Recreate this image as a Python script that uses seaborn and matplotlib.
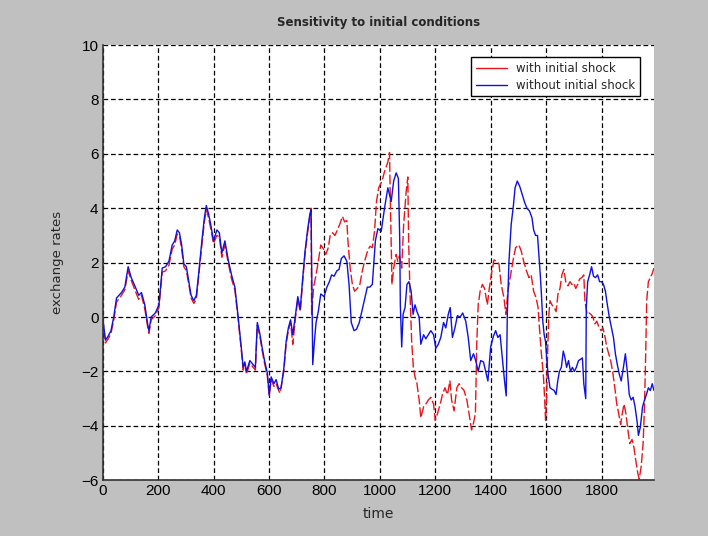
import numpy as np
import pandas as pd
import seaborn as sns
import matplotlib.pyplot as plt

# values
t_with = [0, 10, 20, 30, 40, 50, 68, 80, 92, 103, 118, 130, 140, 152, 163, 167, 175, 190,
          203, 215, 227, 239, 251, 260, 269, 277, 285, 293, 302, 311, 319, 329, 338, 346,
          358, 367, 374, 382, 390, 400, 412, 421, 430, 441, 453, 465, 477, 489, 500, 507,
          513, 519, 531, 543, 551, 558, 567, 575, 584, 594, 601, 608, 618, 626, 635, 640,
          654, 662, 670, 678, 686, 696, 704, 713, 722, 730, 740, 748, 752, 754, 761, 770,
          778, 787, 797, 805, 814, 821, 829, 838, 847, 857, 865, 873, 881, 885, 893, 901,
          909, 919, 928, 937, 945, 955, 964, 973, 981, 988, 996, 1008, 1017, 1029, 1035,
          1038, 1041, 1044, 1050, 1059, 1065, 1071, 1079, 1086, 1095, 1101, 1104, 1109,
          1115, 1121, 1127, 1134, 1142, 1148, 1158, 1166, 1175, 1184, 1194, 1200, 1208,
          1218, 1226, 1235, 1244, 1253, 1259, 1268, 1278, 1286, 1295, 1304, 1314, 1322,
          1331, 1338, 1345, 1350, 1355, 1362, 1370, 1378, 1388, 1395, 1402, 1412, 1422,
          1430, 1438, 1448, 1455, 1462, 1472, 1482, 1490, 1502, 1511, 1519, 1529, 1538,
          1546, 1555, 1564, 1571, 1576, 1583, 1590, 1595, 1598, 1602, 1606, 1610, 1614,
          1621, 1629, 1636, 1643, 1650, 1657, 1664, 1671, 1679, 1686, 1693, 1700, 1707,
          1714, 1721, 1729, 1736, 1740, 1748, 1755, 1762, 1769, 1776, 1783, 1790, 1798,
          1805, 1812, 1819, 1826, 1833, 1840, 1848, 1855, 1862, 1869, 1874, 1881, 1888,
          1895, 1902, 1910, 1917, 1924, 1931, 1936, 1943, 1950, 1955, 1959, 1963, 1969,
          1976, 1983, 1989]
y_with = [0.0, -0.95, -0.8, -0.6, -0.1, 0.55, 0.8, 1.0, 1.7, 1.35, 0.95, 0.65, 0.8, 0.3,
          -0.4, -0.6, -0.1, 0.05, 0.35, 1.65, 1.7, 1.9, 2.5, 2.65, 3.05, 3.0, 2.5, 1.85,
          1.7, 1.2, 0.7, 0.5, 0.65, 1.45, 2.65, 3.5, 3.95, 3.65, 3.25, 2.7, 3.0, 2.95, 2.2,
          2.65, 2.0, 1.4, 1.0, -0.1, -1.2, -1.95, -1.75, -2.1, -1.7, -1.85, -1.95, -0.3,
          -0.7, -1.2, -1.7, -2.15, -2.9, -2.3, -2.55, -2.45, -2.7, -2.8, -1.95, -1.0, -0.5,
          -0.2, -1.0, 0.0, 0.65, 0.2, 1.35, 2.3, 3.15, 3.75, 4.0, 0.1, 1.1, 1.55, 2.05,
          2.65, 2.5, 2.3, 2.55, 3.0, 3.1, 3.0, 3.2, 3.45, 3.7, 3.5, 3.55, 2.8, 1.8, 1.2,
          0.95, 1.05, 1.2, 1.7, 2.05, 2.4, 2.6, 2.55, 3.15, 4.25, 4.75, 5.0, 5.35, 5.7,
          6.05, 4.25, 2.8, 1.2, 1.8, 2.3, 2.05, 2.25, 1.8, 3.4, 4.6, 5.15, 2.8, 0.85, -0.9,
          -1.85, -2.2, -2.45, -3.05, -3.7, -3.3, -3.2, -3.05, -2.95, -3.2, -3.8, -3.55,
          -3.2, -2.85, -2.6, -2.85, -2.35, -3.05, -3.45, -2.6, -2.45, -2.6, -2.7, -3.05,
          -3.55, -4.15, -3.9, -3.55, -0.9, 0.45, 0.95, 1.2, 1.05, 0.45, 1.05, 1.55, 2.1,
          2.05, 1.95, 1.2, 0.7, 0.1, 0.95, 1.55, 2.15, 2.55, 2.65, 2.4, 2.05, 1.7, 1.45,
          1.55, 0.95, 0.7, 0.35, -0.4, -1.35, -2.1, -3.05, -3.8, -2.95, -1.1, 0.1, 0.6,
          0.45, 0.35, 0.2, 0.85, 1.05, 1.55, 1.75, 1.3, 1.15, 1.3, 1.2, 1.25, 1.05, 1.2,
          1.4, 1.45, 1.55, 0.6, 0.1, 0.15, 0.1, 0.0, -0.25, -0.15, -0.35, -0.5, -0.4,
          -0.7, -1.1, -1.35, -1.6, -2.0, -2.6, -3.2, -3.55, -3.95, -3.6, -3.2, -3.55,
          -4.15, -4.65, -4.5, -4.8, -5.3, -5.75, -5.95, -5.5, -4.65, -3.3, -1.5, 0.6, 1.3,
          1.45, 1.6, 1.8]

t_without = [0, 10, 20, 30, 40, 50, 68, 80, 92, 103, 118, 130, 140, 152, 163, 167, 175,
             190, 203, 215, 227, 239, 251, 260, 269, 277, 285, 293, 302, 311, 319, 329,
             338, 346, 358, 367, 374, 382, 390, 400, 412, 421, 430, 441, 453, 465, 477,
             489, 500, 507, 513, 519, 531, 543, 551, 558, 567, 575, 584, 594, 601, 608,
             618, 626, 635, 644, 654, 662, 670, 678, 686, 696, 704, 713, 722, 730, 740,
             748, 752, 758, 764, 770, 778, 787, 799, 809, 818, 826, 835, 845, 853, 861,
             871, 881, 889, 897, 907, 916, 926, 935, 945, 955, 964, 973, 978, 984, 993,
             1005, 1017, 1029, 1041, 1050, 1059, 1067, 1072, 1074, 1079, 1084, 1091, 1098,
             1105, 1113, 1120, 1127, 1134, 1142, 1148, 1158, 1166, 1175, 1184, 1194, 1202,
             1211, 1220, 1230, 1238, 1247, 1254, 1262, 1271, 1280, 1290, 1299, 1310, 1319,
             1328, 1338, 1346, 1355, 1364, 1374, 1382, 1390, 1400, 1410, 1418, 1426, 1434,
             1442, 1450, 1456, 1460, 1466, 1474, 1482, 1488, 1496, 1505, 1514, 1523, 1531,
             1540, 1549, 1555, 1562, 1569, 1574, 1579, 1583, 1588, 1593, 1598, 1602, 1607,
             1614, 1621, 1629, 1636, 1642, 1648, 1655, 1662, 1668, 1674, 1681, 1688, 1695,
             1702, 1709, 1717, 1725, 1731, 1736, 1743, 1745, 1750, 1757, 1764, 1771, 1778,
             1786, 1793, 1800, 1807, 1814, 1821, 1828, 1836, 1843, 1850, 1857, 1864, 1871,
             1879, 1886, 1893, 1900, 1907, 1914, 1921, 1929, 1933, 1940, 1948, 1955, 1962,
             1969, 1976, 1983, 1989]
y_without = [0.0, -0.85, -0.7, -0.5, 0.0, 0.7, 0.9, 1.1, 1.85, 1.45, 1.1, 0.8, 0.9, 0.45,
             -0.3, -0.5, 0.0, 0.15, 0.45, 1.8, 1.85, 2.05, 2.65, 2.8, 3.2, 3.1, 2.65, 1.95,
             1.85, 1.3, 0.8, 0.6, 0.8, 1.55, 2.8, 3.65, 4.1, 3.8, 3.4, 2.8, 3.2, 3.1, 2.35,
             2.8, 2.1, 1.55, 1.1, 0.0, -1.1, -1.85, -1.65, -2.0, -1.6, -1.75, -1.85, -0.2,
             -0.6, -1.1, -1.6, -2.05, -2.85, -2.2, -2.45, -2.3, -2.65, -2.6, -1.85, -0.9,
             -0.4, -0.1, -0.65, 0.1, 0.75, 0.3, 1.45, 2.4, 3.25, 3.8, 3.95, -1.75, -0.9,
             -0.2, 0.2, 0.85, 0.75, 1.1, 1.3, 1.55, 1.5, 1.7, 1.75, 2.15, 2.25, 2.05, 1.2,
             -0.2, -0.5, -0.45, -0.2, 0.2, 0.65, 1.1, 1.1, 1.2, 1.95, 2.8, 3.25, 3.15, 4.0,
             4.75, 4.25, 5.0, 5.3, 5.1, 2.8, 0.45, -1.1, 0.1, 0.35, 1.2, 1.3, 0.95, 0.1,
             0.45, 0.2, 0.0, -1.0, -0.65, -0.8, -0.65, -0.5, -0.65, -1.15, -1.0, -0.75,
             -0.2, -0.4, 0.1, 0.35, -0.75, -0.4, 0.05, 0.0, 0.15, -0.15, -0.75, -1.6,
             -1.35, -1.6, -2.0, -1.6, -1.65, -2.0, -2.35, -1.1, -0.7, -0.5, -0.75, -0.65,
             -1.5, -2.35, -2.9, 0.1, 2.05, 3.4, 4.1, 4.75, 5.0, 4.8, 4.5, 4.2, 4.0, 3.9,
             3.65, 3.2, 3.0, 3.0, 2.3, 1.55, 0.85, -0.15, -0.65, -0.9, -1.5, -2.1, -2.6,
             -2.65, -2.7, -2.85, -2.35, -2.0, -1.85, -1.25, -1.5, -1.85, -1.6, -2.0, -1.85,
             -2.0, -1.85, -1.6, -1.55, -1.5, -2.45, -3.0, 0.35, 1.3, 1.55, 1.85, 1.5, 1.45,
             1.55, 1.3, 1.3, 1.2, 0.95, 0.45, 0.0, -0.4, -0.75, -1.35, -1.75, -2.1, -2.35,
             -1.85, -1.35, -2.0, -2.85, -3.05, -2.95, -3.3, -3.9, -4.35, -4.05, -3.3, -3.05,
             -2.85, -2.6, -2.7, -2.45, -2.7]

labels = ["with initial shock", "without initial shock"]
x_ticks = [0, 200, 400, 600, 800, 1000, 1200, 1400, 1600, 1800]
y_ticks = [-6, -4, -2, 0, 2, 4, 6, 8, 10]

df_with = pd.DataFrame({"time": t_with, "rate": y_with})
df_without = pd.DataFrame({"time": t_without, "rate": y_without})

sns.set_style("white")
plt.rcParams["font.family"] = ["DejaVu Sans"]

fig = plt.figure(figsize=(7.08, 5.36), dpi=100, facecolor="#c0c0c0")
ax = fig.add_axes([0.145, 0.104, 0.779, 0.812])
ax.set_facecolor("white")

sns.lineplot(data=df_with, x="time", y="rate", ax=ax, color="#e8161b", lw=1.0,
             label=labels[0], estimator=None, sort=False)
ax.lines[-1].set_dashes((7, 2))
sns.lineplot(data=df_without, x="time", y="rate", ax=ax, color="#1010e0", lw=1.0,
             label=labels[1], estimator=None, sort=False)

ax.set_xlim(0, 1990)
ax.set_ylim(-6, 10)
ax.set_xticks(x_ticks)
ax.set_yticks(y_ticks)
ax.grid(True, color="black", linestyle=(0, (3.8, 2.2)), linewidth=0.9)

for s in ["top", "right"]:
    ax.spines[s].set_visible(False)
for s in ["left", "bottom"]:
    ax.spines[s].set_color("#333333")
    ax.spines[s].set_linewidth(1.2)

ax.tick_params(axis="both", direction="in", length=4, width=0.8, colors="#333333",
               labelsize=11, labelcolor="black", pad=3)
for lab in ax.get_xticklabels() + ax.get_yticklabels():
    lab.set_fontfamily("Liberation Sans")

ax.set_title("Sensitivity to initial conditions", fontsize=8.5, fontweight="bold", pad=14)
ax.set_xlabel("time", fontsize=10, labelpad=6)
ax.set_ylabel("exchange rates", fontsize=9.5, labelpad=12)

leg = ax.legend(loc="upper right", bbox_to_anchor=(0.985, 0.985), fontsize=8.5,
                frameon=True, fancybox=False, framealpha=1, handlelength=2.6,
                borderpad=0.4, labelspacing=0.3)
leg.get_frame().set_edgecolor("black")
leg.get_frame().set_linewidth(1.0)
leg.get_lines()[0].set_linestyle("-")

fig.savefig("out.png", dpi=100, facecolor=fig.get_facecolor())
